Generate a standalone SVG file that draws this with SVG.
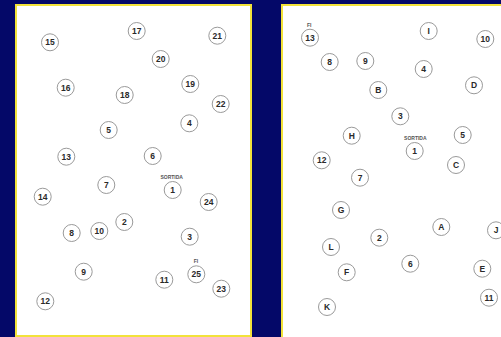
<svg xmlns="http://www.w3.org/2000/svg" width="501" height="337" viewBox="0 0 501 337">
<style>
.bg{fill:#040868}
.panel{fill:#ffffff;stroke:#f2e23a;stroke-width:2}
.n circle{fill:#ffffff;stroke:#9a9a9a;stroke-width:1}
.n text{font-family:"Liberation Sans",Arial,sans-serif;font-weight:bold;font-size:8.5px;fill:#2a2a2a;text-anchor:middle}
.n text.lbl{font-size:5px;fill:#555555}
</style>
<rect class="bg" x="0" y="0" width="501" height="337"/>
<rect class="panel" x="16" y="5" width="235" height="331"/>
<rect class="panel" x="282" y="5" width="230" height="340"/>
<g id="connectors"/>
<g id="left">
<g id="L15" class="n"><circle cx="50" cy="42.3" r="8.5"/><text x="50" y="45.3">15</text></g>
<g id="L17" class="n"><circle cx="136.7" cy="31" r="8.5"/><text x="136.7" y="34">17</text></g>
<g id="L21" class="n"><circle cx="217.3" cy="35.7" r="8.5"/><text x="217.3" y="38.7">21</text></g>
<g id="L20" class="n"><circle cx="160.7" cy="59" r="8.5"/><text x="160.7" y="62">20</text></g>
<g id="L16" class="n"><circle cx="65.7" cy="87.7" r="8.5"/><text x="65.7" y="90.7">16</text></g>
<g id="L18" class="n"><circle cx="124.7" cy="95" r="8.5"/><text x="124.7" y="98">18</text></g>
<g id="L19" class="n"><circle cx="190.3" cy="84" r="8.5"/><text x="190.3" y="87">19</text></g>
<g id="L22" class="n"><circle cx="220.7" cy="104" r="8.5"/><text x="220.7" y="107">22</text></g>
<g id="L4" class="n"><circle cx="189.3" cy="123.3" r="8.5"/><text x="189.3" y="126.3">4</text></g>
<g id="L5" class="n"><circle cx="108.7" cy="130" r="8.5"/><text x="108.7" y="133">5</text></g>
<g id="L13" class="n"><circle cx="66.3" cy="156.7" r="8.5"/><text x="66.3" y="159.7">13</text></g>
<g id="L6" class="n"><circle cx="152.7" cy="156" r="8.5"/><text x="152.7" y="159">6</text></g>
<g id="L1" class="n"><text class="lbl" x="171.7" y="178.5">SORTIDA</text><circle cx="172.7" cy="190" r="8.5"/><text x="172.7" y="193">1</text></g>
<g id="L7" class="n"><circle cx="106.3" cy="185" r="8.5"/><text x="106.3" y="188">7</text></g>
<g id="L14" class="n"><circle cx="42.7" cy="196.7" r="8.5"/><text x="42.7" y="199.7">14</text></g>
<g id="L24" class="n"><circle cx="208.7" cy="202" r="8.5"/><text x="208.7" y="205">24</text></g>
<g id="L2" class="n"><circle cx="124.3" cy="222" r="8.5"/><text x="124.3" y="225">2</text></g>
<g id="L8" class="n"><circle cx="71.7" cy="233" r="8.5"/><text x="71.7" y="236">8</text></g>
<g id="L10" class="n"><circle cx="99.3" cy="231" r="8.5"/><text x="99.3" y="234">10</text></g>
<g id="L3" class="n"><circle cx="189.7" cy="236.7" r="8.5"/><text x="189.7" y="239.7">3</text></g>
<g id="L25" class="n"><text class="lbl" x="196" y="262.5">FI</text><circle cx="196.3" cy="274.3" r="8.5"/><text x="196.3" y="277.3">25</text></g>
<g id="L9" class="n"><circle cx="83.7" cy="271.7" r="8.5"/><text x="83.7" y="274.7">9</text></g>
<g id="L11" class="n"><circle cx="164.3" cy="279.7" r="8.5"/><text x="164.3" y="282.7">11</text></g>
<g id="L23" class="n"><circle cx="221.3" cy="288.7" r="8.5"/><text x="221.3" y="291.7">23</text></g>
<g id="L12" class="n"><circle cx="45.3" cy="301.3" r="8.5"/><text x="45.3" y="304.3">12</text></g>
</g>
<g id="right">
<g id="R13" class="n"><text class="lbl" x="309.3" y="26.8">FI</text><circle cx="310" cy="37.7" r="8.5"/><text x="310" y="40.7">13</text></g>
<g id="RI" class="n"><circle cx="428.7" cy="31" r="8.5"/><text x="428.7" y="34">I</text></g>
<g id="R10" class="n"><circle cx="485.3" cy="39" r="8.5"/><text x="485.3" y="42">10</text></g>
<g id="R8" class="n"><circle cx="329.7" cy="62" r="8.5"/><text x="329.7" y="65">8</text></g>
<g id="R9" class="n"><circle cx="365.3" cy="61" r="8.5"/><text x="365.3" y="64">9</text></g>
<g id="R4" class="n"><circle cx="423.7" cy="69" r="8.5"/><text x="423.7" y="72">4</text></g>
<g id="RB" class="n"><circle cx="378.3" cy="90" r="8.5"/><text x="378.3" y="93">B</text></g>
<g id="RD" class="n"><circle cx="474" cy="85.3" r="8.5"/><text x="474" y="88.3">D</text></g>
<g id="R3" class="n"><circle cx="400.3" cy="116.3" r="8.5"/><text x="400.3" y="119.3">3</text></g>
<g id="RH" class="n"><circle cx="351.7" cy="135.7" r="8.5"/><text x="351.7" y="138.7">H</text></g>
<g id="R1" class="n"><text class="lbl" x="415.3" y="139.5">SORTIDA</text><circle cx="414.7" cy="151" r="8.5"/><text x="414.7" y="154">1</text></g>
<g id="R5" class="n"><circle cx="462.7" cy="135" r="8.5"/><text x="462.7" y="138">5</text></g>
<g id="R12" class="n"><circle cx="321.7" cy="160.3" r="8.5"/><text x="321.7" y="163.3">12</text></g>
<g id="RC" class="n"><circle cx="456" cy="165" r="8.5"/><text x="456" y="168">C</text></g>
<g id="R7" class="n"><circle cx="360" cy="177.7" r="8.5"/><text x="360" y="180.7">7</text></g>
<g id="RG" class="n"><circle cx="341" cy="210" r="8.5"/><text x="341" y="213">G</text></g>
<g id="RA" class="n"><circle cx="441.3" cy="227" r="8.5"/><text x="441.3" y="230">A</text></g>
<g id="RJ" class="n"><circle cx="496" cy="230.3" r="8.5"/><text x="496" y="233.3">J</text></g>
<g id="R2" class="n"><circle cx="379.3" cy="237.7" r="8.5"/><text x="379.3" y="240.7">2</text></g>
<g id="RL" class="n"><circle cx="331" cy="247" r="8.5"/><text x="331" y="250">L</text></g>
<g id="R6" class="n"><circle cx="410.3" cy="263.7" r="8.5"/><text x="410.3" y="266.7">6</text></g>
<g id="RF" class="n"><circle cx="346.7" cy="272.3" r="8.5"/><text x="346.7" y="275.3">F</text></g>
<g id="RE" class="n"><circle cx="482.3" cy="268.7" r="8.5"/><text x="482.3" y="271.7">E</text></g>
<g id="R11" class="n"><circle cx="489" cy="297.7" r="8.5"/><text x="489" y="300.7">11</text></g>
<g id="RK" class="n"><circle cx="327" cy="307" r="8.5"/><text x="327" y="310">K</text></g>
</g>
</svg>
